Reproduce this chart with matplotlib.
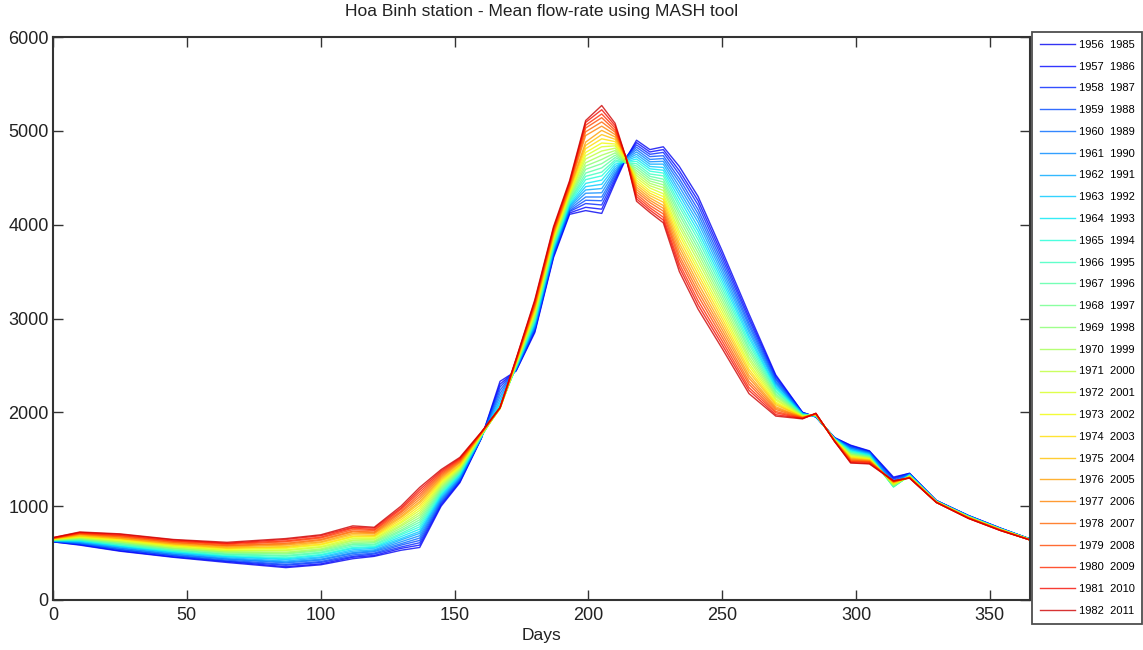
import matplotlib
matplotlib.use("Agg")
import matplotlib.pyplot as plt
import numpy as np

plt.rcParams['font.family'] = ['Liberation Sans', 'DejaVu Sans']

# Days of the year where the mean flow-rate of each window was read
days = [0, 10, 25, 45, 65, 87, 100, 112, 120, 130, 137, 145, 152, 160, 167, 173,
        180, 187, 193, 199, 205, 210, 214, 218, 223, 228, 234, 241, 250, 260,
        270, 280, 285, 292, 298, 305, 314, 320, 330, 342, 354, 365]

# 30-year moving windows (start, end)
win_start = list(range(1956, 1983))
win_end = list(range(1985, 2012))

# Mean flow-rate (m3/s) for each window at the days above
q_1956 = [620, 585, 520, 455, 400, 345, 375, 440, 465, 530, 560, 1000, 1250, 1720, 2330, 2440, 2850, 3650, 4110, 4150, 4120, 4450, 4700, 4900, 4800, 4830, 4620, 4300, 3720, 3050, 2400, 2000, 1950, 1730, 1650, 1590, 1310, 1350, 1060, 900, 765, 650]
q_1957 = [620, 590, 525, 460, 410, 355, 385, 455, 475, 550, 585, 1015, 1260, 1725, 2300, 2445, 2865, 3665, 4125, 4185, 4165, 4475, 4710, 4875, 4775, 4800, 4575, 4255, 3680, 3015, 2385, 2000, 1950, 1730, 1645, 1585, 1300, 1350, 1060, 900, 765, 650]
q_1958 = [625, 595, 535, 470, 415, 370, 400, 465, 490, 565, 610, 1030, 1270, 1725, 2270, 2450, 2875, 3675, 4140, 4225, 4210, 4500, 4715, 4850, 4750, 4770, 4535, 4210, 3640, 2985, 2365, 1995, 1955, 1725, 1635, 1580, 1290, 1345, 1060, 900, 765, 650]
q_1959 = [625, 600, 540, 475, 425, 380, 410, 480, 500, 585, 635, 1045, 1280, 1730, 2235, 2455, 2890, 3690, 4150, 4260, 4255, 4525, 4715, 4825, 4725, 4735, 4490, 4160, 3600, 2950, 2350, 1990, 1955, 1725, 1630, 1575, 1275, 1345, 1060, 895, 760, 650]
q_1960 = [625, 605, 550, 485, 435, 395, 425, 495, 515, 600, 660, 1060, 1290, 1730, 2200, 2460, 2905, 3700, 4165, 4295, 4295, 4545, 4710, 4800, 4695, 4705, 4450, 4115, 3560, 2920, 2330, 1990, 1955, 1725, 1620, 1570, 1260, 1340, 1055, 895, 760, 650]
q_1961 = [630, 610, 555, 490, 440, 405, 435, 505, 525, 620, 685, 1075, 1300, 1735, 2165, 2465, 2915, 3715, 4180, 4335, 4340, 4570, 4700, 4775, 4670, 4675, 4405, 4070, 3520, 2885, 2315, 1985, 1960, 1720, 1615, 1565, 1245, 1340, 1055, 895, 760, 650]
q_1962 = [630, 615, 565, 500, 450, 415, 450, 520, 535, 640, 710, 1090, 1310, 1735, 2130, 2470, 2930, 3725, 4195, 4370, 4385, 4595, 4690, 4750, 4645, 4645, 4360, 4025, 3480, 2855, 2300, 1985, 1960, 1720, 1605, 1560, 1230, 1335, 1055, 895, 760, 650]
q_1963 = [630, 625, 570, 505, 460, 430, 460, 535, 550, 655, 730, 1105, 1325, 1740, 2100, 2475, 2945, 3740, 4205, 4405, 4430, 4620, 4680, 4725, 4620, 4610, 4320, 3975, 3440, 2820, 2280, 1980, 1960, 1720, 1600, 1550, 1220, 1335, 1055, 890, 760, 650]
q_1964 = [635, 630, 575, 515, 465, 440, 475, 550, 560, 675, 755, 1120, 1335, 1740, 2080, 2480, 2960, 3750, 4220, 4440, 4475, 4645, 4670, 4700, 4595, 4580, 4275, 3930, 3400, 2790, 2265, 1980, 1960, 1715, 1590, 1545, 1210, 1330, 1050, 890, 755, 645]
q_1965 = [635, 635, 585, 520, 475, 450, 485, 560, 570, 695, 780, 1135, 1345, 1745, 2065, 2485, 2970, 3765, 4235, 4480, 4520, 4670, 4665, 4675, 4570, 4550, 4230, 3885, 3360, 2755, 2250, 1975, 1965, 1715, 1585, 1540, 1205, 1330, 1050, 890, 755, 645]
q_1966 = [635, 640, 590, 530, 485, 465, 500, 575, 585, 710, 805, 1150, 1355, 1745, 2055, 2490, 2985, 3775, 4250, 4515, 4560, 4690, 4660, 4650, 4540, 4520, 4190, 3840, 3320, 2725, 2230, 1975, 1965, 1715, 1575, 1535, 1205, 1325, 1050, 890, 755, 645]
q_1967 = [640, 645, 600, 535, 490, 475, 510, 590, 595, 730, 830, 1165, 1365, 1750, 2050, 2495, 3000, 3790, 4260, 4550, 4605, 4715, 4660, 4625, 4515, 4485, 4145, 3790, 3280, 2690, 2215, 1970, 1965, 1710, 1570, 1530, 1210, 1325, 1050, 885, 755, 645]
q_1968 = [640, 650, 605, 545, 500, 490, 525, 600, 610, 745, 855, 1180, 1375, 1750, 2050, 2500, 3010, 3800, 4275, 4590, 4650, 4740, 4660, 4600, 4490, 4455, 4105, 3745, 3240, 2660, 2195, 1970, 1970, 1710, 1560, 1525, 1215, 1320, 1050, 885, 755, 645]
q_1969 = [640, 655, 615, 550, 510, 500, 535, 615, 620, 765, 880, 1195, 1385, 1755, 2045, 2505, 3025, 3815, 4290, 4625, 4695, 4765, 4665, 4575, 4465, 4425, 4060, 3700, 3200, 2625, 2180, 1965, 1970, 1710, 1555, 1520, 1220, 1320, 1050, 885, 755, 645]
q_1970 = [645, 660, 620, 555, 515, 510, 545, 630, 630, 785, 905, 1210, 1395, 1760, 2045, 2510, 3040, 3830, 4305, 4660, 4740, 4790, 4670, 4550, 4440, 4395, 4015, 3655, 3160, 2590, 2165, 1960, 1970, 1710, 1550, 1515, 1225, 1320, 1050, 885, 750, 645]
q_1971 = [645, 665, 625, 565, 525, 525, 560, 640, 645, 800, 930, 1225, 1405, 1760, 2040, 2515, 3050, 3840, 4320, 4700, 4785, 4815, 4680, 4525, 4415, 4365, 3975, 3610, 3120, 2560, 2145, 1960, 1975, 1705, 1540, 1510, 1230, 1315, 1045, 885, 750, 645]
q_1972 = [650, 670, 635, 570, 530, 535, 570, 655, 655, 820, 955, 1240, 1415, 1765, 2040, 2520, 3065, 3855, 4330, 4735, 4830, 4840, 4690, 4500, 4390, 4330, 3930, 3560, 3080, 2525, 2130, 1955, 1975, 1705, 1535, 1505, 1235, 1315, 1045, 880, 750, 645]
q_1973 = [650, 675, 640, 580, 540, 550, 585, 670, 670, 835, 980, 1255, 1425, 1765, 2040, 2525, 3080, 3865, 4345, 4770, 4870, 4860, 4700, 4475, 4360, 4300, 3890, 3515, 3040, 2495, 2110, 1955, 1975, 1705, 1525, 1500, 1240, 1315, 1045, 880, 750, 645]
q_1974 = [650, 680, 650, 585, 550, 560, 595, 680, 680, 855, 1005, 1270, 1435, 1770, 2045, 2530, 3090, 3880, 4360, 4810, 4915, 4885, 4710, 4450, 4335, 4270, 3845, 3470, 3000, 2460, 2095, 1950, 1980, 1700, 1520, 1495, 1245, 1310, 1045, 880, 750, 645]
q_1975 = [655, 685, 655, 595, 555, 570, 610, 695, 690, 875, 1030, 1285, 1445, 1770, 2045, 2535, 3105, 3890, 4375, 4845, 4960, 4910, 4720, 4425, 4310, 4240, 3800, 3425, 2960, 2430, 2080, 1950, 1980, 1700, 1510, 1490, 1250, 1310, 1045, 880, 745, 640]
q_1976 = [655, 695, 660, 600, 565, 585, 620, 710, 705, 890, 1050, 1300, 1460, 1775, 2045, 2540, 3120, 3905, 4385, 4880, 5005, 4935, 4720, 4400, 4285, 4205, 3760, 3375, 2920, 2395, 2060, 1945, 1980, 1700, 1505, 1485, 1255, 1310, 1045, 875, 745, 640]
q_1977 = [655, 700, 670, 610, 575, 595, 635, 725, 715, 910, 1075, 1315, 1470, 1775, 2050, 2545, 3135, 3915, 4400, 4950, 5050, 4960, 4720, 4375, 4260, 4175, 3715, 3330, 2880, 2365, 2045, 1945, 1980, 1695, 1495, 1480, 1260, 1305, 1040, 875, 745, 640]
q_1978 = [660, 705, 675, 615, 580, 605, 645, 735, 725, 930, 1100, 1330, 1480, 1780, 2050, 2550, 3145, 3930, 4415, 4990, 5095, 4985, 4720, 4350, 4235, 4145, 3670, 3285, 2840, 2330, 2030, 1940, 1985, 1695, 1490, 1475, 1260, 1305, 1040, 875, 745, 640]
q_1979 = [660, 710, 685, 625, 590, 620, 660, 750, 740, 945, 1125, 1345, 1490, 1780, 2050, 2555, 3160, 3940, 4430, 5030, 5140, 5005, 4720, 4325, 4205, 4115, 3630, 3240, 2800, 2300, 2010, 1940, 1985, 1695, 1480, 1470, 1265, 1305, 1040, 875, 745, 640]
q_1980 = [660, 715, 690, 630, 600, 630, 670, 765, 750, 965, 1150, 1360, 1500, 1785, 2050, 2560, 3175, 3955, 4440, 5060, 5180, 5030, 4720, 4300, 4180, 4080, 3585, 3190, 2760, 2265, 1995, 1935, 1985, 1690, 1475, 1465, 1265, 1300, 1040, 870, 740, 640]
q_1981 = [665, 720, 700, 640, 605, 645, 685, 775, 765, 980, 1175, 1375, 1510, 1785, 2050, 2565, 3185, 3965, 4455, 5090, 5225, 5055, 4720, 4275, 4155, 4050, 3545, 3145, 2720, 2235, 1975, 1935, 1990, 1690, 1465, 1455, 1270, 1300, 1040, 870, 740, 640]
q_1982 = [665, 725, 705, 645, 615, 655, 695, 790, 775, 1000, 1200, 1390, 1520, 1790, 2050, 2570, 3200, 3980, 4470, 5110, 5270, 5080, 4720, 4250, 4130, 4020, 3500, 3100, 2680, 2200, 1960, 1930, 1990, 1690, 1460, 1450, 1270, 1300, 1040, 870, 740, 640]

flows = [q_1956, q_1957, q_1958, q_1959, q_1960, q_1961, q_1962, q_1963, q_1964,
         q_1965, q_1966, q_1967, q_1968, q_1969, q_1970, q_1971, q_1972, q_1973,
         q_1974, q_1975, q_1976, q_1977, q_1978, q_1979, q_1980, q_1981, q_1982]

colors = plt.cm.jet(np.linspace(0.1, 0.93, len(flows)))

fig = plt.figure(figsize=(11.43, 6.5), dpi=100)
ax = fig.add_axes([53 / 1143, 50 / 650, 977 / 1143, 563 / 650])

for q, c, a, b in zip(flows, colors, win_start, win_end):
    ax.plot(days, q, color=c, linewidth=1.0, alpha=0.8, label=f"{a}  {b}")

ax.set_xlim(0, 365)
ax.set_ylim(0, 6000)
ax.set_xticks([0, 50, 100, 150, 200, 250, 300, 350])
ax.set_yticks([0, 1000, 2000, 3000, 4000, 5000, 6000])
ax.tick_params(direction='in', length=7, width=1, top=True, right=True,
               labelsize=13, colors='#333333', labelcolor='#222222')
ax.tick_params(axis='x', pad=5)
ax.tick_params(axis='y', pad=3)
for sp in ax.spines.values():
    sp.set_linewidth(1.5)
    sp.set_color('#333333')

ax.set_title("Hoa Binh station - Mean flow-rate using MASH tool", fontsize=12.5, pad=15, color='#222222')
ax.set_xlabel("Days", fontsize=12.5, labelpad=3, color='#222222')

leg = ax.legend(loc='upper left', bbox_to_anchor=(1032 / 1143, 1 - 32 / 650),
                bbox_transform=fig.transFigure, borderaxespad=0, fontsize=8,
                frameon=True, fancybox=False, handlelength=3.2, handletextpad=0.3,
                labelspacing=1.06, borderpad=0.7)
leg.get_frame().set_edgecolor('#222222')
leg.get_frame().set_linewidth(1.3)
for h in leg.get_lines():
    h.set_alpha(0.8)

fig.savefig("out.png", dpi=100)
